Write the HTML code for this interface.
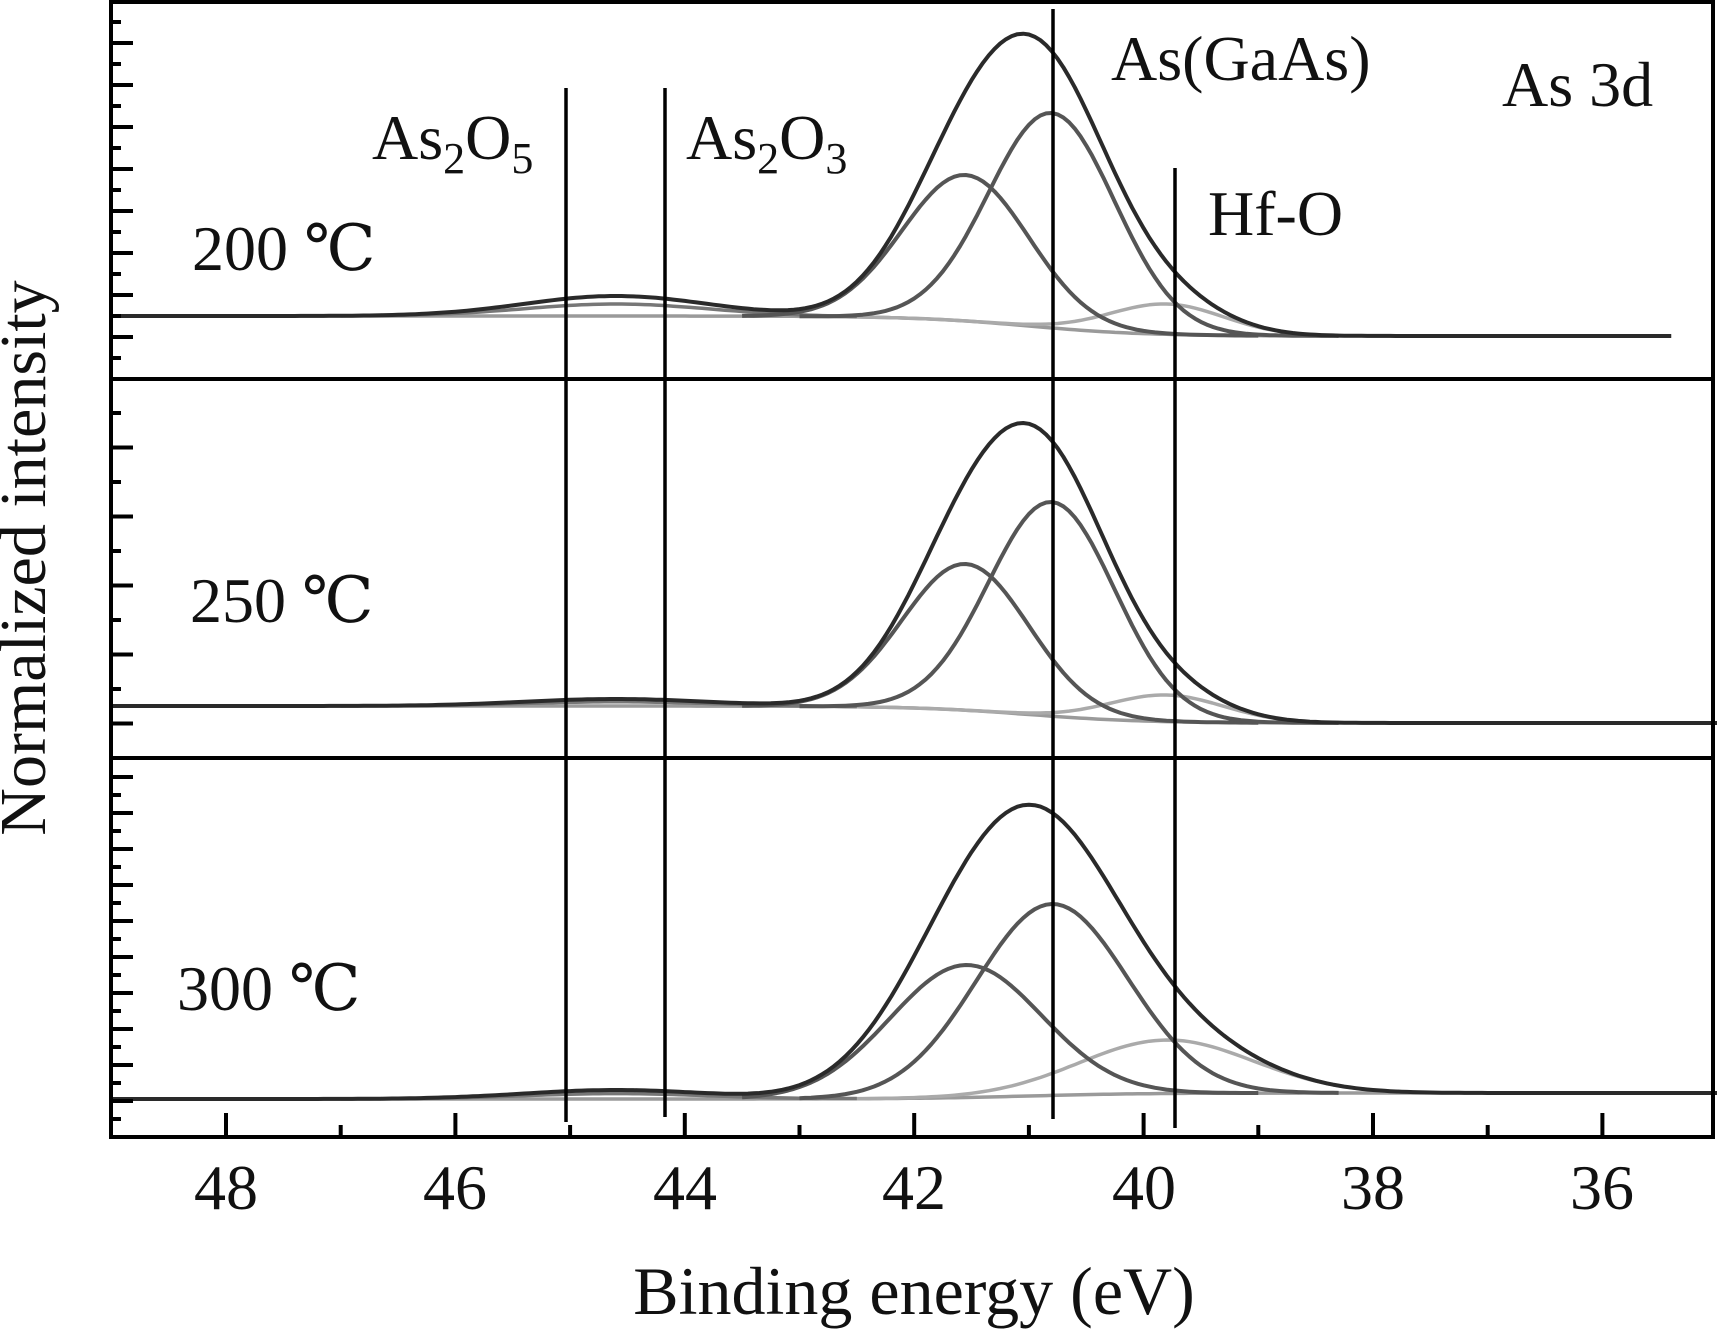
<!DOCTYPE html>
<html><head><meta charset="utf-8"><style>
html,body{margin:0;padding:0;background:#fff;}
svg{display:block;}
text{font-family:"Liberation Serif","DejaVu Serif",serif;fill:#111;}
</style></head><body>
<svg id="s" width="1717" height="1333" viewBox="0 0 1717 1333" xmlns="http://www.w3.org/2000/svg">
<g id="curves" fill="none" stroke-linejoin="round"></g>
<g id="ticks" stroke="#000" stroke-width="4"></g>
<rect x="111" y="2" width="1602" height="1135" fill="none" stroke="#000" stroke-width="4"/>
<line x1="111" y1="379" x2="1713" y2="379" stroke="#000" stroke-width="4"/>
<line x1="111" y1="758" x2="1713" y2="758" stroke="#000" stroke-width="4"/>
<g stroke="#000" stroke-width="3.5">
<line x1="566" y1="88" x2="566" y2="1122"/>
<line x1="665" y1="88" x2="665" y2="1117"/>
<line x1="1053" y1="9" x2="1053" y2="1119"/>
<line x1="1175" y1="168" x2="1175" y2="1128"/>
</g>
<g font-size="64">
<text x="372" y="159">As<tspan font-size="44" dy="14">2</tspan><tspan dy="-14">O</tspan><tspan font-size="44" dy="14">5</tspan></text>
<text x="686" y="159">As<tspan font-size="44" dy="14">2</tspan><tspan dy="-14">O</tspan><tspan font-size="44" dy="14">3</tspan></text>
<text x="1111" y="80">As(GaAs)</text>
<text x="1502" y="106">As 3d</text>
<text x="1208" y="235">Hf-O</text>
<text x="192" y="270">200 ℃</text>
<text x="190" y="622">250 ℃</text>
<text x="177" y="1010">300 ℃</text>
<text x="226" y="1209" text-anchor="middle">48</text>
<text x="455" y="1209" text-anchor="middle">46</text>
<text x="685" y="1209" text-anchor="middle">44</text>
<text x="914" y="1209" text-anchor="middle">42</text>
<text x="1144" y="1209" text-anchor="middle">40</text>
<text x="1373" y="1209" text-anchor="middle">38</text>
<text x="1602" y="1209" text-anchor="middle">36</text>
<text x="914" y="1314" text-anchor="middle" font-size="68">Binding energy (eV)</text>
<text transform="translate(45,558) rotate(-90)" text-anchor="middle" font-size="66">Normalized intensity</text>
</g>
</svg>
<script>
(function(){
var NS="http://www.w3.org/2000/svg";
var tk=document.getElementById('ticks');
function ln(x1,y1,x2,y2){var l=document.createElementNS(NS,'line');l.setAttribute('x1',x1);l.setAttribute('y1',y1);l.setAttribute('x2',x2);l.setAttribute('y2',y2);tk.appendChild(l);}
function X(E){return 226+(48-E)*114.7;}
for(var e=36;e<=48;e++){var x=X(e);ln(x,1137,x,(e%2==0)?1113:1125);}
var i,y;
for(i=0;y=22+i*21,y<372;i++){ln(111,y,i%2?133:121,y);}
for(i=0;y=413+i*34.5,y<752;i++){ln(111,y,i%2?133:121,y);}
for(i=0;y=777+i*18,y<1131;i++){ln(111,y,i%2==0?133:121,y);}
var cg=document.getElementById('curves');
function g(E,c,s){return Math.exp(-(E-c)*(E-c)/(2*s*s));}
function path(f,col,w,E0,E1){var d='';for(var E=E0;E>=E1;E-=0.05){d+=(d?'L':'M')+X(E).toFixed(1)+','+f(E).toFixed(1);}var p=document.createElementNS(NS,'path');p.setAttribute('d',d);p.setAttribute('stroke',col);p.setAttribute('stroke-width',w);cg.appendChild(p);}
var P=[
 {L:316,R:336,A:113,B:175,H:304,hs:0.5,O:296,end:35.4,s:0.55},
 {L:706,R:723,A:502,B:564,H:695,hs:0.5,O:699,end:35.0,s:0.55},
 {L:1099,R:1093,A:904,B:965,H:1040,hs:0.75,O:1090,end:35.0,s:0.66}
];
P.forEach(function(p){
 function bg(E){return p.R+(p.L-p.R)/(1+Math.exp(-(E-41)/0.5));}
 var aA=bg(40.8)-p.A, aB=bg(41.55)-p.B, aH=bg(39.8)-p.H, aO=bg(44.6)-p.O;
 var fA=function(E){return aA*g(E,40.8,p.s);};
 var fB=function(E){return aB*g(E,41.55,p.s);};
 var fH=function(E){return aH*g(E,39.8,p.hs);};
 var fO=function(E){return aO*g(E,44.6,0.8);};
 path(function(E){return bg(E);},'#9a9a9a',3.5,49,p.end);
 path(function(E){return bg(E)-fH(E);},'#aaaaaa',3.5,42.5,37.5);
 path(function(E){return bg(E)-fO(E)*0.6;},'#777',3.5,47,42.5);
 path(function(E){return bg(E)-fB(E);},'#555',4,43.5,39);
 path(function(E){return bg(E)-fA(E);},'#555',4,43,38.3);
 path(function(E){return bg(E)-fA(E)-fB(E)-fH(E)-fO(E);},'#2a2a2a',4,49,p.end);
});
})();
</script>
</body></html>
